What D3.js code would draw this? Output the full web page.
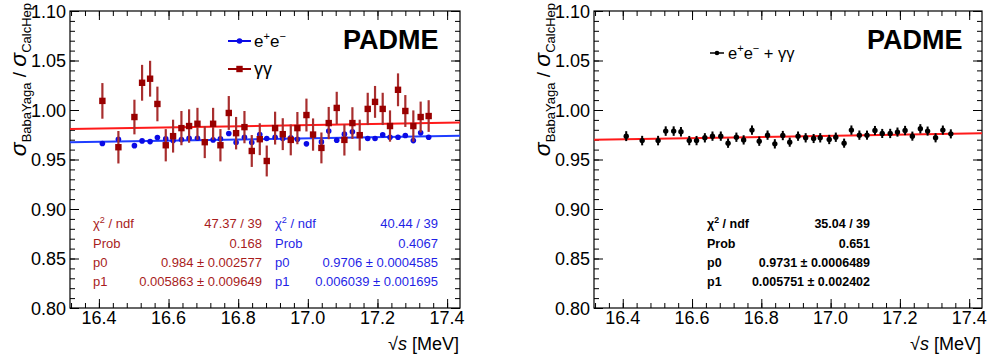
<!DOCTYPE html>
<html>
<head>
<meta charset="utf-8">
<script src="https://cdn.jsdelivr.net/npm/d3@7/dist/d3.min.js"></script>
<style>
  html, body { margin: 0; padding: 0; background: #fff; }
  svg { display: block; font-family: "Liberation Sans", Arial, sans-serif; }
</style>
</head>
<body>
<svg id="chart" width="987" height="358"></svg>
<script>
// ---------------- data ----------------
const energies = [16.410, 16.456, 16.502, 16.524, 16.547, 16.568, 16.592, 16.613, 16.637, 16.659,
  16.683, 16.704, 16.728, 16.749, 16.773, 16.794, 16.818, 16.839, 16.862, 16.882,
  16.906, 16.928, 16.951, 16.970, 16.996, 17.015, 17.039, 17.060, 17.083, 17.105,
  17.128, 17.149, 17.172, 17.193, 17.215, 17.236, 17.259, 17.280, 17.303, 17.324, 17.347];

const ggRatio = [1.0092, 0.9624, 0.9929, 1.0275, 1.0316, 1.0061, 0.9644, 0.9736, 0.9817, 0.9838,
  0.9861, 0.9675, 0.9861, 0.9644, 0.9970, 0.9766, 0.9827, 0.9586, 0.9705, 0.9485,
  0.9817, 0.9756, 0.9698, 0.9817, 0.9949, 0.9752, 0.9617, 0.9868, 1.0021, 0.9698,
  0.9868, 0.9746, 1.0011, 1.0082, 1.0011, 0.9838, 1.0204, 0.9990, 0.9838, 0.9929, 0.9939];
const ggErr = [0.0180, 0.0164, 0.0175, 0.0181, 0.0181, 0.0175, 0.0163, 0.0166, 0.0173, 0.0169,
  0.0161, 0.0161, 0.0161, 0.0163, 0.0171, 0.0164, 0.0163, 0.0161, 0.0161, 0.0156,
  0.0166, 0.0161, 0.0156, 0.0163, 0.0166, 0.0163, 0.0156, 0.0163, 0.0163, 0.0158,
  0.0160, 0.0156, 0.0163, 0.0161, 0.0163, 0.0158, 0.0166, 0.0161, 0.0158, 0.0156, 0.0160];

const eeRatio = [0.9661, 0.9705, 0.9640, 0.9688, 0.9681, 0.9722, 0.9708, 0.9691, 0.9701, 0.9715,
  0.9715, 0.9681, 0.9698, 0.9708, 0.9763, 0.9671, 0.9725, 0.9671, 0.9752, 0.9712,
  0.9725, 0.9712, 0.9718, 0.9705, 0.9658, 0.9745, 0.9678, 0.9787, 0.9695, 0.9756,
  0.9780, 0.9749, 0.9712, 0.9712, 0.9749, 0.9725, 0.9725, 0.9742, 0.9691, 0.9769, 0.9725];
const eeErr = [0.0020, 0.0019, 0.0019, 0.0018, 0.0018, 0.0018, 0.0017, 0.0017, 0.0017, 0.0017,
  0.0017, 0.0017, 0.0017, 0.0017, 0.0017, 0.0017, 0.0017, 0.0017, 0.0017, 0.0016,
  0.0017, 0.0017, 0.0016, 0.0017, 0.0017, 0.0017, 0.0016, 0.0017, 0.0017, 0.0016,
  0.0016, 0.0016, 0.0017, 0.0016, 0.0017, 0.0016, 0.0017, 0.0016, 0.0016, 0.0016, 0.0016];

const combRatio = [0.9736, 0.9691, 0.9691, 0.9787, 0.9787, 0.9780, 0.9691, 0.9691, 0.9719, 0.9736,
  0.9736, 0.9665, 0.9725, 0.9698, 0.9797, 0.9685, 0.9746, 0.9658, 0.9742, 0.9675,
  0.9736, 0.9719, 0.9712, 0.9719, 0.9702, 0.9725, 0.9665, 0.9797, 0.9746, 0.9746,
  0.9793, 0.9763, 0.9763, 0.9777, 0.9793, 0.9736, 0.9810, 0.9787, 0.9719, 0.9797, 0.9759];
const combErr = [0.0050, 0.0048, 0.0048, 0.0048, 0.0048, 0.0048, 0.0047, 0.0047, 0.0047, 0.0047,
  0.0047, 0.0047, 0.0047, 0.0047, 0.0047, 0.0047, 0.0047, 0.0047, 0.0047, 0.0046,
  0.0047, 0.0047, 0.0046, 0.0047, 0.0047, 0.0047, 0.0046, 0.0047, 0.0047, 0.0046,
  0.0046, 0.0046, 0.0047, 0.0046, 0.0047, 0.0046, 0.0047, 0.0046, 0.0046, 0.0046, 0.0046];

// linear fit parameters: f = p0 + p1*(E - fitRefE)
const fitRefE = 16.86;
const fitGG = [0.984, 0.005863];
const fitEE = [0.9706, 0.006039];
const fitComb = [0.9731, 0.005751];

const statLabels = ["χ² / ndf", "Prob", "p0", "p1"];
const statsGG = ["47.37 / 39", "0.168", "0.984 ± 0.002577", "0.005863 ± 0.009649"];
const statsEE = ["40.44 / 39", "0.4067", "0.9706 ± 0.0004585", "0.006039 ± 0.001695"];
const statsComb = ["35.04 / 39", "0.651", "0.9731 ± 0.0006489", "0.005751 ± 0.002402"];

const yTickValues = [0.80, 0.85, 0.90, 0.95, 1.00, 1.05, 1.10];
const yTickLabels = ["0.80", "0.85", "0.90", "0.95", "1.00", "1.05", "1.10"];
const xTickValues = [16.4, 16.6, 16.8, 17.0, 17.2, 17.4];
const xTickLabels = ["16.4", "16.6", "16.8", "17.0", "17.2", "17.4"];

const xDomain = [16.317, 17.437];
const yDomain = [0.80, 1.10];

// ---------------- drawing ----------------
const svg = d3.select("#chart");

const colGG = "#990000", colGGerr = "#a82e2e", colGGfit = "#ff1a1a";
const colEE = "#0a0ae6", colEEfit = "#1f3dff";

function drawPanel(left, right) {
  const top = 11, bottom = 308;
  const x = d3.scaleLinear().domain(xDomain).range([left, right]);
  const y = d3.scaleLinear().domain(yDomain).range([bottom, top]);
  const g = svg.append("g");

  const yMinor = d3.range(0, 31).map(i => 0.80 + i * 0.01);
  const xMinor = d3.range(-2, 27).map(i => 16.4 + i * 0.04).filter(v => v > xDomain[0] + 1e-6 && v < xDomain[1] - 1e-6);

  const axL = d3.axisRight(y).tickValues(yMinor).tickSize(5).tickFormat("");
  const axLM = d3.axisRight(y).tickValues(yTickValues).tickSize(9).tickFormat("");
  const axR = d3.axisLeft(y).tickValues(yMinor).tickSize(5).tickFormat("");
  const axRM = d3.axisLeft(y).tickValues(yTickValues).tickSize(9).tickFormat("");
  const axB = d3.axisTop(x).tickValues(xMinor).tickSize(5).tickFormat("");
  const axBM = d3.axisTop(x).tickValues(xTickValues).tickSize(9).tickFormat("");
  const axT = d3.axisBottom(x).tickValues(xMinor).tickSize(5).tickFormat("");
  const axTM = d3.axisBottom(x).tickValues(xTickValues).tickSize(9).tickFormat("");

  const tickGroups = [
    [axL, `translate(${left},0)`], [axLM, `translate(${left},0)`],
    [axR, `translate(${right},0)`], [axRM, `translate(${right},0)`],
    [axB, `translate(0,${bottom})`], [axBM, `translate(0,${bottom})`],
    [axT, `translate(0,${top})`], [axTM, `translate(0,${top})`]
  ];
  tickGroups.forEach(([ax, tr]) => {
    const a = g.append("g").attr("transform", tr).call(ax);
    a.select(".domain").remove();
    a.selectAll("line").attr("stroke", "#000").attr("stroke-width", 1);
  });

  g.append("rect").attr("x", left).attr("y", top).attr("width", right - left).attr("height", bottom - top)
    .attr("fill", "none").attr("stroke", "#000").attr("stroke-width", 1.2);

  g.selectAll(".ylab").data(yTickValues).enter().append("text")
    .attr("x", left - 4).attr("y", d => y(d) + 6.5)
    .attr("text-anchor", "end").attr("font-size", 18).attr("fill", "#000")
    .text((d, i) => yTickLabels[i]);
  g.selectAll(".xlab").data(xTickValues).enter().append("text")
    .attr("x", d => x(d)).attr("y", bottom + 16)
    .attr("text-anchor", "middle").attr("font-size", 18).attr("fill", "#000")
    .text((d, i) => xTickLabels[i]);

  const xt = g.append("text").attr("x", right - 1).attr("y", 350).attr("text-anchor", "end")
    .attr("font-size", 18).attr("fill", "#000");
  xt.append("tspan").text("√");
  xt.append("tspan").attr("font-style", "italic").text("s");
  xt.append("tspan").text(" [MeV]");

  const yt = g.append("text").attr("transform", `translate(${left - 44},3) rotate(-90)`)
    .attr("text-anchor", "end").attr("fill", "#000");
  yt.append("tspan").attr("font-size", 23).attr("font-style", "italic").text("σ");
  yt.append("tspan").attr("font-size", 13).attr("dy", 5).text("BabaYaga");
  yt.append("tspan").attr("font-size", 19).attr("dy", -5).text(" / ");
  yt.append("tspan").attr("font-size", 23).attr("font-style", "italic").text("σ");
  yt.append("tspan").attr("font-size", 13).attr("dy", 5).text("CalcHep");

  g.append("text").attr("x", left + 273).attr("y", 48.5).attr("font-size", 27).attr("font-weight", "bold")
    .attr("fill", "#000").text("PADME");

  return {g, x, y};
}

function fitLine(p, x, y, g, color) {
  const line = d3.line().x(d => x(d)).y(d => y(p[0] + p[1] * (d - fitRefE)));
  g.append("path").datum(xDomain).attr("d", line).attr("fill", "none")
    .attr("stroke", color).attr("stroke-width", 2);
}

function errBars(g, x, y, vals, errs, color, w) {
  g.append("g").selectAll("line").data(vals).enter().append("line")
    .attr("x1", (d, i) => x(energies[i])).attr("x2", (d, i) => x(energies[i]))
    .attr("y1", (d, i) => y(d - errs[i])).attr("y2", (d, i) => y(d + errs[i]))
    .attr("stroke", color).attr("stroke-width", w);
}

// ---- left panel ----
const L = drawPanel(70, 460);
fitLine(fitGG, L.x, L.y, L.g, colGGfit);
fitLine(fitEE, L.x, L.y, L.g, colEEfit);
errBars(L.g, L.x, L.y, eeRatio, eeErr, colEE, 2);
L.g.append("g").selectAll("circle").data(eeRatio).enter().append("circle")
  .attr("cx", (d, i) => L.x(energies[i])).attr("cy", d => L.y(d)).attr("r", 2.8).attr("fill", colEE);
errBars(L.g, L.x, L.y, ggRatio, ggErr, colGGerr, 2.2);
L.g.append("g").selectAll("rect").data(ggRatio).enter().append("rect")
  .attr("x", (d, i) => L.x(energies[i]) - 3.2).attr("y", d => L.y(d) - 3.2)
  .attr("width", 6.4).attr("height", 6.4).attr("fill", colGG);

// legend left
L.g.append("line").attr("x1", 228).attr("x2", 251).attr("y1", 41).attr("y2", 41).attr("stroke", colEE).attr("stroke-width", 2);
L.g.append("circle").attr("cx", 239.5).attr("cy", 41).attr("r", 2.8).attr("fill", colEE);
const le1 = L.g.append("text").attr("x", 254).attr("y", 47).attr("font-size", 17).attr("fill", "#000");
le1.append("tspan").text("e");
le1.append("tspan").attr("font-size", 11).attr("dy", -7).text("+");
le1.append("tspan").attr("dy", 7).text("e");
le1.append("tspan").attr("font-size", 11).attr("dy", -7).text("−");
L.g.append("line").attr("x1", 228).attr("x2", 251).attr("y1", 69).attr("y2", 69).attr("stroke", colGG).attr("stroke-width", 2);
L.g.append("rect").attr("x", 236.3).attr("y", 65.8).attr("width", 6.4).attr("height", 6.4).attr("fill", colGG);
L.g.append("text").attr("x", 254).attr("y", 75).attr("font-size", 18).attr("fill", "#000").text("γγ");

function stats(g, xl, xr, vals, color, weight, size) {
  const rows = [223, 243, 262, 281];
  rows.forEach((ry, i) => {
    const t = g.append("text").attr("x", xl).attr("y", ry + 4.5).attr("font-size", size).attr("font-weight", weight)
      .attr("fill", color);
    if (i === 0) {
      t.append("tspan").text("χ");
      t.append("tspan").attr("font-size", size * 0.7).attr("dy", -5).text("2");
      t.append("tspan").attr("dy", 5).text(" / ndf");
    } else {
      t.text(statLabels[i]);
    }
    g.append("text").attr("x", xr).attr("y", ry + 4.5).attr("font-size", size).attr("font-weight", weight)
      .attr("text-anchor", "end").attr("fill", color).text(vals[i]);
  });
}
stats(L.g, 93, 262, statsGG, "#a81c1c", "normal", 13);
stats(L.g, 275, 438, statsEE, "#1f1fe6", "normal", 13);

// ---- right panel ----
const R = drawPanel(594, 982);
fitLine(fitComb, R.x, R.y, R.g, colGGfit);
errBars(R.g, R.x, R.y, combRatio, combErr, "#000", 2);
R.g.append("g").selectAll("circle").data(combRatio).enter().append("circle")
  .attr("cx", (d, i) => R.x(energies[i])).attr("cy", d => R.y(d)).attr("r", 2.7).attr("fill", "#000");

R.g.append("line").attr("x1", 710).attr("x2", 724).attr("y1", 53).attr("y2", 53).attr("stroke", "#000").attr("stroke-width", 1.5);
R.g.append("circle").attr("cx", 717).attr("cy", 53).attr("r", 2.3).attr("fill", "#000");
const le3 = R.g.append("text").attr("x", 728).attr("y", 58.5).attr("font-size", 16.5).attr("fill", "#000");
le3.append("tspan").text("e");
le3.append("tspan").attr("font-size", 11).attr("dy", -7).text("+");
le3.append("tspan").attr("dy", 7).text("e");
le3.append("tspan").attr("font-size", 11).attr("dy", -7).text("−");
le3.append("tspan").attr("dy", 7).text(" + γγ");

stats(R.g, 707, 870, statsComb, "#000", "bold", 12.5);
</script>
</body>
</html>
